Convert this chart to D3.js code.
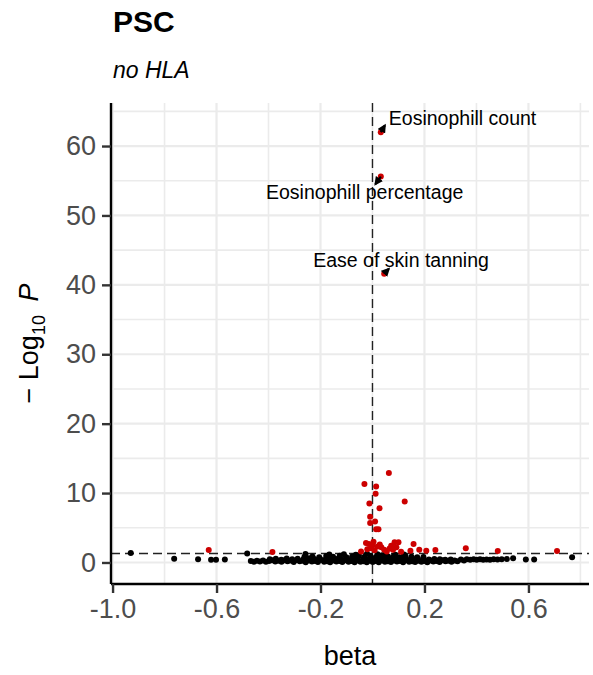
<!DOCTYPE html>
<html>
<head>
<meta charset="utf-8">
<script src="https://cdn.jsdelivr.net/npm/d3@7"></script>
<style>
  html, body { margin: 0; padding: 0; background: #fff; }
  svg { display: block; font-family: "Liberation Sans", Arial, Helvetica, sans-serif; }
</style>
</head>
<body>
<svg id="chart" width="593" height="675"></svg>
<script>
// Volcano plot: effect size (beta) against -log10 P, PSC without HLA.

const titleText = "PSC";
const subtitleText = "no HLA";

// Non-significant associations: [beta, -log10 P]
const nsPoints = [
  [-0.930,1.35],[-0.763,0.55],[-0.671,0.45],[-0.621,0.40],[-0.602,0.40],[-0.568,0.42],[-0.482,1.30],
  [-0.468,0.20],[-0.456,0.12],[-0.445,0.25],[-0.433,0.15],[-0.421,0.28],[-0.410,0.10],[-0.398,0.22],
  [-0.386,0.31],[-0.374,0.14],[-0.362,0.26],[-0.350,0.09],[-0.339,0.33],[-0.327,0.18],[-0.315,0.27],
  [-0.303,0.07],[-0.292,0.35],[-0.280,0.16],[-0.268,0.24],[-0.257,0.05],[-0.245,0.30],[-0.233,0.13],
  [-0.221,0.21],[-0.210,0.08],[-0.198,0.34],[-0.186,0.11],[-0.174,0.19],[-0.163,0.04],[-0.151,0.29],
  [-0.139,0.14],[-0.127,0.23],[-0.116,0.06],[-0.104,0.32],[-0.092,0.10],[-0.081,0.20],[-0.069,0.03],
  [-0.057,0.27],[-0.046,0.12],[-0.034,0.18],[-0.022,0.05],[-0.011,0.25],[0.001,0.08],[0.013,0.21],
  [0.024,0.02],[0.036,0.30],[0.048,0.11],[0.059,0.17],[0.071,0.06],[0.083,0.28],[0.094,0.13],
  [0.106,0.22],[0.118,0.04],[0.129,0.31],[0.141,0.09],[0.153,0.19],[0.164,0.07],[0.176,0.26],
  [0.188,0.12],[0.199,0.20],[0.211,0.05],[0.223,0.29],[0.234,0.14],[0.246,0.23],[0.258,0.08],
  [0.269,0.33],[0.281,0.16],[0.293,0.24],[0.304,0.10],[0.316,0.28],[0.327,0.19],
  [-0.395,0.45],[-0.372,0.52],[-0.351,0.41],[-0.330,0.58],[-0.309,0.47],[-0.288,0.55],[-0.266,0.43],
  [-0.245,0.61],[-0.224,0.49],[-0.203,0.57],[-0.182,0.40],[-0.161,0.63],[-0.140,0.51],[-0.119,0.44],
  [-0.098,0.60],[-0.077,0.48],[-0.056,0.66],[-0.035,0.53],[-0.014,0.42],[0.007,0.62],[0.028,0.50],
  [0.049,0.58],[0.070,0.45],[0.091,0.64],[0.112,0.52],[0.133,0.41],[0.154,0.59],[0.175,0.47],
  [0.196,0.55],[0.217,0.43],[0.238,0.50],[0.259,0.46],[0.280,0.41],[0.301,0.44],
  [-0.262,0.78],[-0.231,0.85],[-0.205,0.74],[-0.178,0.92],[-0.152,0.81],[-0.126,0.97],[-0.101,0.76],
  [-0.078,0.88],[-0.052,1.02],[-0.030,0.83],[-0.008,0.95],[0.015,0.79],[0.038,1.05],[0.060,0.87],
  [0.082,0.93],[0.104,0.77],[0.127,0.90],[0.150,0.82],[0.172,0.74],[0.196,0.80],
  [-0.258,1.22],[-0.166,1.15],[-0.110,1.20],[-0.064,1.12],[-0.021,1.25],[0.019,1.18],[0.052,1.24],
  [0.088,1.10],[0.121,1.16],
  [0.340,0.42],[0.352,0.30],[0.363,0.45],[0.376,0.38],[0.389,0.46],[0.401,0.40],[0.414,0.47],
  [0.426,0.39],[0.439,0.44],[0.452,0.41],[0.466,0.48],[0.481,0.43],[0.497,0.46],[0.517,0.50],
  [0.541,0.60],[0.590,0.42],[0.622,0.44],[0.768,0.75]
];

// Significant associations: [beta, -log10 P]
const sigPoints = [
  [0.063,12.9],[-0.031,11.3],[0.014,10.95],[0.012,9.9],[0.124,8.8],[-0.012,8.5],[0.027,7.8],
  [-0.009,6.6],[0.010,5.9],[-0.009,5.7],[0.014,4.8],[0.023,4.8],
  [-0.630,1.80],[-0.385,1.50],[-0.044,1.60],[-0.014,2.65],[0.001,2.50],[0.020,2.30],[0.034,2.20],
  [-0.020,1.90],[-0.005,2.05],[0.008,1.75],[0.045,1.85],[0.066,2.00],[0.072,2.40],[0.085,2.90],
  [0.100,2.90],[0.079,1.85],[0.092,2.20],[0.110,1.55],[0.146,1.70],[0.158,2.65],[0.180,1.85],
  [0.207,1.70],[0.242,1.80],[0.359,2.05],[0.482,1.65],[0.710,1.65],[-0.025,2.80],[0.004,3.00],
  [0.028,2.60],[0.055,1.60]
];

// Labelled traits
const labelNames = ["Eosinophill count", "Eosinophill percentage", "Ease of skin tanning"];
const labelBeta = [0.032, 0.032, 0.045];
const labelP = [62.0, 55.6, 41.6];
const labelTextBeta = [0.063, -0.030, 0.110];
const labelTextP = [63.0, 52.3, 42.6];
const labelTextAnchor = ["start", "middle", "middle"];
const connectorEndBeta = [0.048, 0.011, 0.063];
const connectorEndP = [63.0, 54.5, 42.3];

// Axis settings
const xTicks = [-1.0, -0.6, -0.2, 0.2, 0.6];
const xMinor = [-0.8, -0.4, 0.0, 0.4, 0.8];
const yTicks = [0, 10, 20, 30, 40, 50, 60];
const yMinor = [5, 15, 25, 35, 45, 55, 65];
const xDomain = [-1.006, 0.833];
const yDomain = [-3.1, 66.2];
const pCutoff = 1.30;   // -log10(0.05)
const betaCutoff = 0;

const svg = d3.select("#chart");
const panel = { left: 111, right: 589, top: 103, bottom: 584 };

const x = d3.scaleLinear().domain(xDomain).range([panel.left, panel.right]);
const y = d3.scaleLinear().domain(yDomain).range([panel.bottom, panel.top]);

const gridColor = "#ebebeb";

// Grid
const grid = svg.append("g");
grid.selectAll(".ymin").data(yMinor).join("line")
  .attr("x1", panel.left).attr("x2", panel.right)
  .attr("y1", d => y(d)).attr("y2", d => y(d))
  .attr("stroke", gridColor).attr("stroke-width", 1.6);
grid.selectAll(".xmin").data(xMinor).join("line")
  .attr("y1", panel.top).attr("y2", panel.bottom)
  .attr("x1", d => x(d)).attr("x2", d => x(d))
  .attr("stroke", gridColor).attr("stroke-width", 1.6);
grid.selectAll(".ymaj").data(yTicks).join("line")
  .attr("x1", panel.left).attr("x2", panel.right)
  .attr("y1", d => y(d)).attr("y2", d => y(d))
  .attr("stroke", gridColor).attr("stroke-width", 2.2);
grid.selectAll(".xmaj").data(xTicks).join("line")
  .attr("y1", panel.top).attr("y2", panel.bottom)
  .attr("x1", d => x(d)).attr("x2", d => x(d))
  .attr("stroke", gridColor).attr("stroke-width", 2.2);

// Cut-off lines
svg.append("line")
  .attr("x1", x(betaCutoff)).attr("x2", x(betaCutoff))
  .attr("y1", panel.top).attr("y2", panel.bottom)
  .attr("stroke", "#222").attr("stroke-width", 1.4).attr("stroke-dasharray", "9,5");
svg.append("line")
  .attr("x1", panel.left).attr("x2", panel.right)
  .attr("y1", y(pCutoff)).attr("y2", y(pCutoff))
  .attr("stroke", "#222").attr("stroke-width", 1.4).attr("stroke-dasharray", "9,5");

// Points
const pts = svg.append("g");
pts.selectAll(".ns").data(nsPoints).join("circle")
  .attr("cx", d => x(d[0])).attr("cy", d => y(d[1])).attr("r", 3)
  .attr("fill", "#000");
pts.selectAll(".sig").data(sigPoints).join("circle")
  .attr("cx", d => x(d[0])).attr("cy", d => y(d[1])).attr("r", 3)
  .attr("fill", "#cc0000");
pts.selectAll(".lab").data(labelBeta).join("circle")
  .attr("cx", (d, i) => x(d)).attr("cy", (d, i) => y(labelP[i])).attr("r", 3)
  .attr("fill", "#cc0000");

// Connectors with arrowheads
svg.append("defs").append("marker")
  .attr("id", "arrow").attr("viewBox", "0 0 10 10")
  .attr("refX", 8).attr("refY", 5)
  .attr("markerWidth", 4).attr("markerHeight", 4)
  .attr("orient", "auto")
  .append("path").attr("d", "M0,0 L10,5 L0,10 z").attr("fill", "#000");
svg.append("g").selectAll("line").data(labelBeta).join("line")
  .attr("x1", (d, i) => x(d)).attr("y1", (d, i) => y(labelP[i]))
  .attr("x2", (d, i) => x(connectorEndBeta[i])).attr("y2", (d, i) => y(connectorEndP[i]))
  .attr("stroke", "#000").attr("stroke-width", 2.2)
  .attr("marker-end", "url(#arrow)");

// Labels
svg.append("g").selectAll("text").data(labelNames).join("text")
  .attr("x", (d, i) => x(labelTextBeta[i]))
  .attr("y", (d, i) => y(labelTextP[i]))
  .attr("text-anchor", (d, i) => labelTextAnchor[i])
  .attr("font-size", 19.5).attr("fill", "#000")
  .text(d => d);

// Axes
const xAxis = svg.append("g").attr("transform", `translate(0,${panel.bottom})`)
  .call(d3.axisBottom(x).tickValues(xTicks).tickFormat(d3.format(".1f")).tickSize(9).tickPadding(6));
const yAxis = svg.append("g").attr("transform", `translate(${panel.left},0)`)
  .call(d3.axisLeft(y).tickValues(yTicks).tickFormat(d3.format("d")).tickSize(9).tickPadding(6));
[xAxis, yAxis].forEach(g => {
  g.select(".domain").attr("stroke", "#000").attr("stroke-width", 2.4);
  g.selectAll(".tick line").attr("stroke", "#333").attr("stroke-width", 2.4);
  g.selectAll(".tick text").attr("fill", "#4d4d4d").attr("font-size", 27)
    .attr("font-family", "'Liberation Sans', Arial, sans-serif");
});
xAxis.select(".domain").attr("d", `M${panel.left},0H${panel.right}`);
yAxis.select(".domain").attr("d", `M0,${panel.top}V${panel.bottom}`);
xAxis.selectAll(".tick text").text(d => d3.format(".1f")(d).replace("−", "-"));

// Axis titles
svg.append("text")
  .attr("x", (panel.left + panel.right) / 2).attr("y", 665)
  .attr("text-anchor", "middle").attr("font-size", 27).attr("fill", "#000")
  .text("beta");

const yt = svg.append("text")
  .attr("transform", `translate(38,${(panel.top + panel.bottom) / 2}) rotate(-90)`)
  .attr("text-anchor", "middle").attr("font-size", 27).attr("fill", "#000");
yt.append("tspan").text("\u2212 Log");
yt.append("tspan").attr("font-size", 18).attr("dy", 7).text("10");
yt.append("tspan").attr("dy", -7).text("\u2002");
yt.append("tspan").attr("font-style", "italic").text("P");

// Title and subtitle
svg.append("text").attr("x", panel.left + 2).attr("y", 32)
  .attr("font-size", 30).attr("font-weight", "bold").attr("fill", "#000")
  .text(titleText);
svg.append("text").attr("x", panel.left + 2).attr("y", 78)
  .attr("font-size", 23).attr("font-style", "italic").attr("fill", "#000")
  .text(subtitleText);
</script>
</body>
</html>
